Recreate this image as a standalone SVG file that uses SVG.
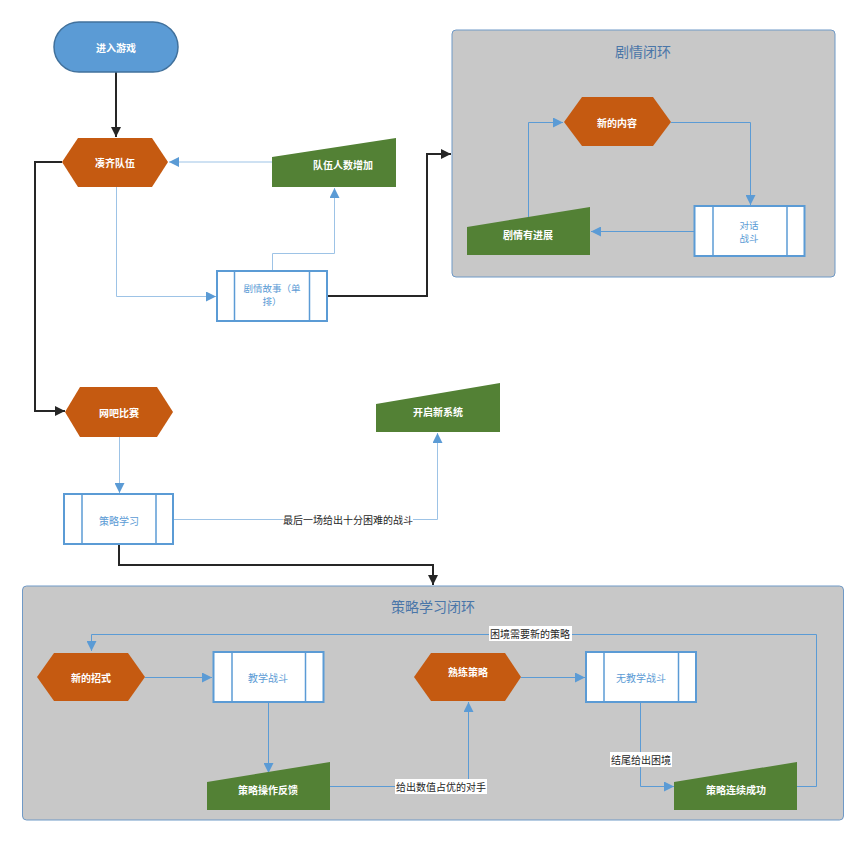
<svg xmlns="http://www.w3.org/2000/svg" width="866" height="842" viewBox="0 0 866 842">
<defs>
<marker id="ab" viewBox="0 0 10 10" refX="10" refY="5" markerWidth="10" markerHeight="10" markerUnits="userSpaceOnUse" orient="auto"><path d="M0,0 L10,5 L0,10 z" fill="#5b9bd5"/></marker>
<marker id="ak" viewBox="0 0 10 10" refX="10" refY="5" markerWidth="10" markerHeight="10" markerUnits="userSpaceOnUse" orient="auto"><path d="M0,0 L10,5 L0,10 z" fill="#262626"/></marker>
<style>
text{font-family:"Noto Sans CJK SC","Noto Sans",sans-serif;text-anchor:middle;dominant-baseline:central}
.t{font-size:10px;font-weight:bold;fill:#fff}
.pt{font-size:10px;fill:#5b9bd5}
.pt2{font-size:9.5px;fill:#5b9bd5}
.lb{font-size:10px;fill:#262626}
.ct{font-size:14px;fill:#4a76a8}
.hex{fill:#c55a11}
.mi{fill:#538135}
.pr{fill:#fff;stroke:#5b9bd5;stroke-width:2}
.pi{stroke:#5b9bd5;stroke-width:1.5}
.box{fill:#c8c8c8;stroke:#6f99c6;stroke-width:1}
.cb{fill:none;stroke:#5b9bd5;stroke-width:1;marker-end:url(#ab)}
.cbl{fill:none;stroke:#9dc3e6;stroke-width:1;marker-end:url(#ab)}
.ck{fill:none;stroke:#262626;stroke-width:2;marker-end:url(#ak)}
.bg{fill:#fff}
</style>
</defs>
<rect width="866" height="842" fill="#fff"/>
<g id="container-story"><rect class="box" x="452" y="30" width="383" height="247" rx="4"/><text class="ct" x="643" y="51">剧情闭环</text></g>
<g id="container-strategy"><rect class="box" x="22.5" y="586" width="821" height="234" rx="4"/><text class="ct" x="433" y="606">策略学习闭环</text></g>
<g id="connectors">
<path class="ck" d="M116,72 V137"/>
<path class="cbl" d="M272,162 H169"/>
<path class="cbl" d="M116.5,187 V296.5 H216"/>
<path class="cbl" d="M272.5,271 V253.5 H334.5 V188"/>
<path class="ck" d="M327,296 H427 V154 H451"/>
<path class="ck" d="M62,162 H35 V411 H65"/>
<path class="cb" d="M671,122.5 H750.5 V205"/>
<path class="cb" d="M694,231.5 H591"/>
<path class="cb" d="M528.5,217 V122.5 H563"/>
<path class="cbl" d="M119.5,437 V493"/>
<path class="cbl" d="M174,519.5 H437.5 V433"/>
<rect class="bg" x="283" y="512" width="130" height="15"/>
<text class="lb" x="348" y="519">最后一场给出十分困难的战斗</text>
<path class="ck" d="M119,544 V565 H433 V585"/>
<path class="cb" d="M145,677.5 H212"/>
<path class="cb" d="M268.5,702 V773"/>
<path class="cb" d="M330,786.5 H468.5 V702"/>
<rect class="bg" x="395" y="779" width="92" height="15"/>
<text class="lb" x="441" y="786">给出数值占优的对手</text>
<path class="cb" d="M521,677.5 H585"/>
<path class="cb" d="M640.5,702 V786.5 H674"/>
<rect class="bg" x="610" y="752" width="62" height="15"/>
<text class="lb" x="641" y="759">结尾给出困境</text>
<path class="cb" d="M797,786.5 H816.5 V634.5 H91.5 V651"/>
<rect class="bg" x="489" y="626" width="83" height="15"/>
<text class="lb" x="530" y="633">困境需要新的策略</text>
</g>
<g id="start"><rect x="54" y="22" width="124" height="50" rx="25" fill="#5b9bd5" stroke="#41719c" stroke-width="1.5"/><text class="t" x="116" y="47">进入游戏</text></g>
<g id="gather-team"><polygon class="hex" points="62,162 78,138 152,138 168,162 152,187 78,187"/><text class="t" x="115" y="162">凑齐队伍</text></g>
<g id="team-grow"><polygon class="mi" points="272,157 396,138 396,187 272,187"/><text class="t" x="343" y="164">队伍人数增加</text></g>
<g id="story"><rect class="pr" x="217" y="271" width="110" height="50"/><line class="pi" x1="234.5" y1="271" x2="234.5" y2="321"/><line class="pi" x1="309.5" y1="271" x2="309.5" y2="321"/><text class="pt2" x="272" y="288">剧情故事（单</text><text class="pt2" x="272" y="301">排）</text></g>
<g id="new-content"><polygon class="hex" points="564,122 582,97 653,97 671,122 653,146 582,146"/><text class="t" x="617" y="122">新的内容</text></g>
<g id="dialog-battle"><rect class="pr" x="694.5" y="206" width="110" height="50"/><line class="pi" x1="713" y1="206" x2="713" y2="256"/><line class="pi" x1="787" y1="206" x2="787" y2="256"/><text class="pt2" x="749" y="224.5">对话</text><text class="pt2" x="749" y="237.5">战斗</text></g>
<g id="story-progress"><polygon class="mi" points="467,227 590,207 590,255 467,255"/><text class="t" x="528" y="234">剧情有进展</text></g>
<g id="netbar"><polygon class="hex" points="65,412 80,387 157,387 173,412 157,437 80,437"/><text class="t" x="119" y="412">网吧比赛</text></g>
<g id="strategy-learn"><rect class="pr" x="64" y="494" width="109" height="50"/><line class="pi" x1="82" y1="494" x2="82" y2="544"/><line class="pi" x1="156" y1="494" x2="156" y2="544"/><text class="pt" x="119" y="520">策略学习</text></g>
<g id="new-system"><polygon class="mi" points="376,404 500,383 500,432 376,432"/><text class="t" x="438" y="411">开启新系统</text></g>
<g id="new-move"><polygon class="hex" points="37,677 54,653 128,653 145,677 128,701 54,701"/><text class="t" x="91" y="677">新的招式</text></g>
<g id="teach-battle"><rect class="pr" x="213.5" y="652" width="110" height="50"/><line class="pi" x1="232" y1="652" x2="232" y2="702"/><line class="pi" x1="305.5" y1="652" x2="305.5" y2="702"/><text class="pt" x="268" y="677">教学战斗</text></g>
<g id="feedback"><polygon class="mi" points="207,782 330,762 330,810 207,810"/><text class="t" x="268" y="789">策略操作反馈</text></g>
<g id="master"><polygon class="hex" points="414,677 431,653 505,653 521,677 505,701 431,701"/><text class="t" x="468" y="671">熟练策略</text></g>
<g id="no-teach-battle"><rect class="pr" x="586" y="652" width="110" height="50"/><line class="pi" x1="604" y1="652" x2="604" y2="702"/><line class="pi" x1="678.5" y1="652" x2="678.5" y2="702"/><text class="pt" x="641" y="677">无教学战斗</text></g>
<g id="success"><polygon class="mi" points="674,782 797,762 797,810 674,810"/><text class="t" x="736" y="789">策略连续成功</text></g>
</svg>
